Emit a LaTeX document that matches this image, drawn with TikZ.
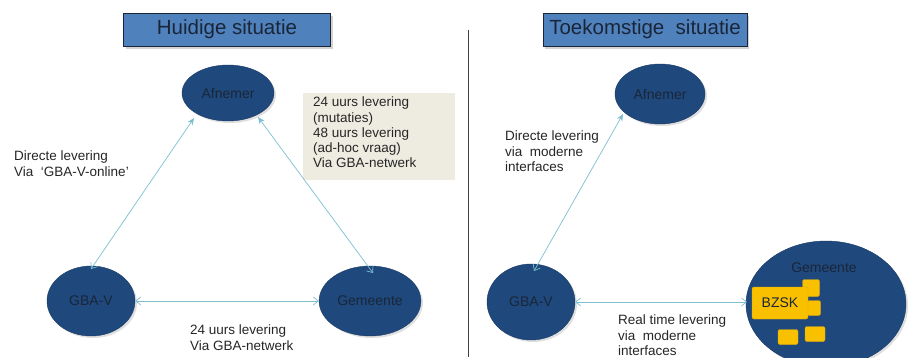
\documentclass[tikz,border=0pt]{standalone}
\usepackage{fontspec}
\setmainfont{Liberation Sans}
\usetikzlibrary{arrows.meta,shadows,shapes.geometric}
\definecolor{navy}{HTML}{1F497D}
\definecolor{titleblue}{HTML}{4F81BD}
\definecolor{txtdark}{HTML}{1A2538}
\definecolor{arr}{HTML}{7DBFD0}
\definecolor{beige}{HTML}{EEECE1}
\definecolor{bz}{HTML}{F9C000}
\definecolor{bzline}{HTML}{E0A800}
\tikzset{
  ent/.style={ellipse, fill=navy, draw=navy!80!black, line width=0.4pt, drop shadow={opacity=0.25, shadow xshift=2pt, shadow yshift=-2pt}, text=txtdark, font=\fontsize{14}{16}\selectfont},
  titlebox/.style={draw=txtdark, line width=0.8pt, fill=titleblue, text=txtdark, font=\fontsize{20.5}{24}\selectfont, drop shadow={opacity=0.35, shadow xshift=2pt, shadow yshift=-3pt}},
  link/.style={draw=arr, line width=0.7pt, {Straight Barb[length=5pt,width=8pt]}-{Straight Barb[length=5pt,width=8pt]}},
  uplink/.style={draw=arr, line width=0.7pt, {Stealth[length=7pt,width=6pt]}-{Straight Barb[length=5pt,width=8pt]}},
  lbl/.style={align=left, anchor=north west, text=black!85, font=\fontsize{13.5}{15.2}\selectfont, inner sep=0pt},
  bzbox/.style={fill=bz, draw=bzline, rounded corners=2pt, line width=0.4pt}
}
\begin{document}
\begin{tikzpicture}[x=1pt,y=-1pt]
\useasboundingbox (0,0) rectangle (911,357);
\clip (0,0) rectangle (911,357);
% titles
\node[titlebox, minimum width=207pt, minimum height=33pt] (t1) at (227,29.5) {Huidige situatie};
\node[titlebox, minimum width=204pt, minimum height=33pt] (t2) at (645,29.5) {Toekomstige\ \ situatie};
% divider
\coordinate (d1) at (468,30);
\coordinate (d2) at (468,357);
\draw[black!75, line width=0.8pt] (d1) -- (d2);
% left ellipses
\node[ent, minimum width=92pt, minimum height=56pt] (a1) at (228,93) {Afnemer};
\node[ent, minimum width=88pt, minimum height=70pt] (g1) at (91,301) {GBA-V};
\node[ent, minimum width=90pt, minimum height=70pt] (m1) at (370,301) {Gemeente};
% beige box
\node[fill=beige, minimum width=152pt, minimum height=87pt, anchor=north west, inner sep=0pt] (box) at (303,93) {};
\node[lbl] (boxt) at (313,97) {24 uurs levering\\(mutaties)\\48 uurs levering\\(ad-hoc vraag)\\Via GBA-netwerk};
% left links
\coordinate (a1l) at (194,118);
\coordinate (g1t) at (91,269);
\coordinate (a1r) at (258,117);
\coordinate (m1t) at (373,273);
\draw[uplink] (a1l) -- (g1t);
\draw[uplink] (a1r) -- (m1t);
\draw[link] (g1.east) -- (m1.west);
\node[lbl] (l1) at (14,151) {Directe levering\\Via\ \ `GBA-V-online'};
\node[lbl] (l2) at (190,325) {24 uurs levering\\Via GBA-netwerk};
% right ellipses
\node[ent, minimum width=90pt, minimum height=60pt] (a2) at (660,94) {Afnemer};
\node[ent, minimum width=88pt, minimum height=76pt] (g2) at (531,302) {GBA-V};
\node[ent, minimum width=160pt, minimum height=126pt] (m2) at (826,304) {};
\node[text=txtdark, font=\fontsize{14}{16}\selectfont] (m2t) at (824,268) {Gemeente};
% yellow boxes
\node[bzbox, minimum width=17pt, minimum height=17pt] (s1) at (811,288) {};
\node[bzbox, minimum width=13pt, minimum height=15pt] (s2) at (814,308) {};
\node[bzbox, minimum width=20pt, minimum height=15pt] (s3) at (788,337) {};
\node[bzbox, minimum width=20pt, minimum height=15pt] (s4) at (815,334) {};
\node[bzbox, minimum width=56pt, minimum height=32pt, text=txtdark, font=\fontsize{14}{16}\selectfont] (bz) at (780,303) {BZSK};
% right links
\coordinate (a2l) at (623,114);
\coordinate (g2t) at (534,271);
\draw[uplink] (a2l) -- (g2t);
\coordinate (m2w) at (747,302);
\draw[link] (g2.east) -- (m2w);
\node[lbl] (l3) at (505,131) {Directe levering\\via\ \ moderne\\interfaces};
\node[lbl] (l4) at (618,315) {Real time levering\\via\ \ moderne\\interfaces};
\end{tikzpicture}
\end{document}
